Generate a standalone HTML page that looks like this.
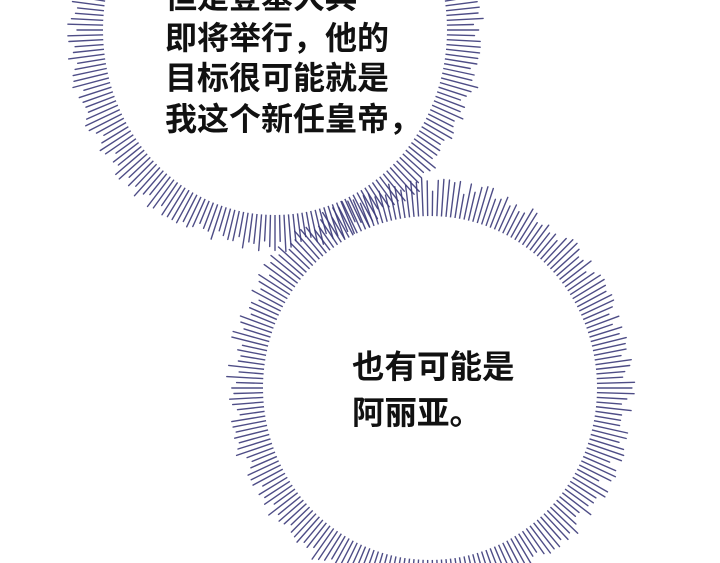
<!DOCTYPE html>
<html><head><meta charset="utf-8"><style>
html,body{margin:0;padding:0;background:#fff;width:720px;height:563px;overflow:hidden;position:relative}
svg{position:absolute;left:0;top:0}
.t{position:absolute;font-family:"Liberation Sans","Noto Sans CJK SC",sans-serif;color:#111;font-weight:700;white-space:nowrap}
</style></head><body>
<svg id="s" width="720" height="563" viewBox="0 0 720 563"></svg>
<div class="t" style="left:165px;top:-23px;font-size:32px;line-height:40.5px">但是登基大典<br>即将举行，他的<br>目标很可能就是<br>我这个新任皇帝，</div>
<div class="t" style="left:352px;top:344px;font-size:32.5px;line-height:46px">也有可能是<br>阿丽亚。</div>
<script>
var s=document.getElementById('s'),h='';
function bubble(cx,cy,rx,ry,n,seed){
  var g='';
  for(var i=0;i<n;i++){
    var a=i/n*Math.PI*2;
    var r=Math.sin(i*12.9898+seed)*43758.5453;r=r-Math.floor(r);
    var L=24+r*14;
    var c=Math.cos(a),sn=Math.sin(a);
    var x1=cx+c*(rx-2),y1=cy+sn*(ry-2),x2=cx+c*(rx+L),y2=cy+sn*(ry+L);
    g+='<line x1="'+x1.toFixed(1)+'" y1="'+y1.toFixed(1)+'" x2="'+x2.toFixed(1)+'" y2="'+y2.toFixed(1)+'" stroke="#3b3a7a" stroke-width="1.4" stroke-linecap="round" opacity="0.9"/>';
  }
  g+='<ellipse cx="'+cx+'" cy="'+cy+'" rx="'+rx+'" ry="'+ry+'" fill="#fff"/>';
  return g;
}
h+=bubble(275,30,172,185,240,1);
h+=bubble(430,388,167,172,230,7);
s.innerHTML=h;
</script>
</body></html>
